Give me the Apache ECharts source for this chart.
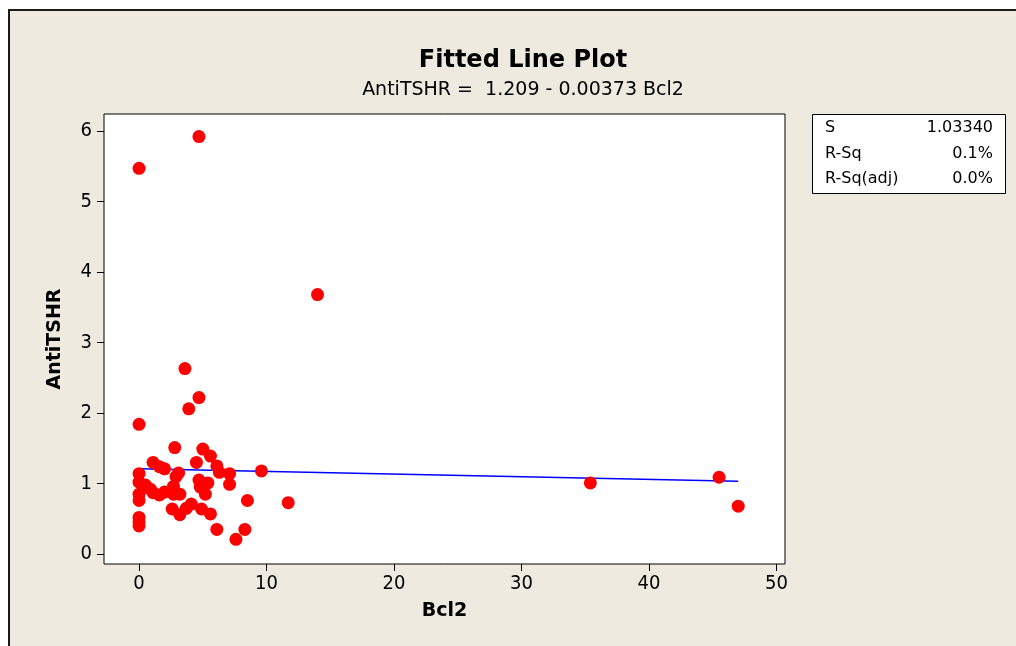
<!DOCTYPE html>
<html>
<head>
<meta charset="utf-8">
<script src="https://cdn.jsdelivr.net/npm/echarts@6/dist/echarts.min.js"></script>
<style>
html,body{margin:0;padding:0;background:#fff;}
#c{width:1016px;height:646px;}
</style>
</head>
<body>
<div id="c"></div>
<script>
// Data
var bcl2 = [0, 4.7, 14.0, 3.6, 3.9, 4.7, 0,
  2.8, 5.0, 5.6, 1.1, 4.5, 1.6, 2.0, 6.1, 6.3, 7.1, 9.6, 0, 3.1, 2.9,
  7.1, 4.7, 5.4, 4.8, 5.2, 0, 0.5, 0.9, 0, 0, 1.1, 1.6, 2.0, 2.7, 2.7, 3.2,
  2.6, 3.2, 3.7, 4.1, 4.9, 5.6, 8.5, 11.7, 6.1, 8.3, 7.6, 0, 0, 0,
  35.4, 45.5, 47.0];
var antiTSHR = [5.47, 5.92, 3.68, 2.63, 2.06, 2.22, 1.84,
  1.51, 1.49, 1.39, 1.30, 1.30, 1.24, 1.21, 1.25, 1.16, 1.14, 1.18, 1.14, 1.15, 1.10,
  0.99, 1.05, 1.01, 0.95, 0.85, 1.02, 0.98, 0.92, 0.85, 0.76, 0.87, 0.84, 0.88, 0.96, 0.85, 0.85,
  0.64, 0.56, 0.65, 0.71, 0.64, 0.57, 0.76, 0.73, 0.35, 0.35, 0.21, 0.52, 0.45, 0.40,
  1.01, 1.09, 0.68];
var fitX = [0, 47.0];
var fitY = [1.209, 1.034];
var xTicks = [0, 10, 20, 30, 40, 50];
var yTicks = [0, 1, 2, 3, 4, 5, 6];
var statNames = ['S', 'R-Sq', 'R-Sq(adj)'];
var statValues = ['1.03340', '0.1%', '0.0%'];
var titleText = 'Fitted Line Plot';
var subText = 'AntiTSHR =  1.209 - 0.00373 Bcl2';

var FONT = '"DejaVu Sans", sans-serif';
var NARROW = '"DejaVu Sans Condensed", "DejaVu Sans", sans-serif';

var points = bcl2.map(function (x, i) { return [x, antiTSHR[i]]; });
var fitLine = fitX.map(function (x, i) { return [x, fitY[i]]; });

var statGraphics = [];
statNames.forEach(function (n, i) {
  statGraphics.push({type: 'text', left: 825, top: 120 + i * 25.5,
    style: {text: n, font: '16px ' + FONT, fill: '#000'}});
  statGraphics.push({type: 'text', right: 23, top: 120 + i * 25.5,
    style: {text: statValues[i], font: '16px ' + FONT, fill: '#000', textAlign: 'right'}});
});

var chart = echarts.init(document.getElementById('c'), null, {renderer: 'canvas'});
chart.setOption({
  backgroundColor: '#fff',
  animation: false,
  graphic: [
    {type: 'rect', left: 8, top: 9, z: -10,
      shape: {x: 0, y: 0, width: 1020, height: 650},
      style: {fill: '#EEEAE0', stroke: '#1a1a1a', lineWidth: 2}},
    {type: 'rect', left: 812, top: 114,
      shape: {x: 0, y: 0, width: 193, height: 79},
      style: {fill: '#fff', stroke: '#000', lineWidth: 1}}
  ].concat(statGraphics),
  title: [
    {text: titleText, left: 518, top: 44, textAlign: 'center',
      textStyle: {fontFamily: FONT, fontSize: 24, fontWeight: 'bold', color: '#000'}},
    {text: subText, left: 518, top: 76, textAlign: 'center',
      textStyle: {fontFamily: FONT, fontSize: 19, fontWeight: 'normal', color: '#000'}}
  ],
  grid: {left: 104, top: 114, width: 681, height: 450, show: true,
    backgroundColor: '#fff', borderColor: '#000', borderWidth: 1},
  xAxis: {
    type: 'value', min: -2.75, max: 50.67,
    name: 'Bcl2', nameLocation: 'middle', nameGap: 38,
    nameTextStyle: {fontFamily: FONT, fontSize: 19, fontWeight: 'bold', color: '#000'},
    axisLine: {show: false, onZero: false},
    splitLine: {show: false},
    axisTick: {show: true, inside: false, length: 7, customValues: xTicks,
      lineStyle: {color: '#000', width: 1}},
    axisLabel: {customValues: xTicks, margin: 10,
      fontFamily: NARROW, fontSize: 20, color: '#000'}
  },
  yAxis: {
    type: 'value', min: -0.14, max: 6.24,
    name: 'AntiTSHR', nameLocation: 'middle', nameGap: 39,
    nameTextStyle: {fontFamily: FONT, fontSize: 19, fontWeight: 'bold', color: '#000'},
    axisLine: {show: false, onZero: false},
    splitLine: {show: false},
    axisTick: {show: true, inside: false, length: 7, customValues: yTicks,
      lineStyle: {color: '#000', width: 1}},
    axisLabel: {customValues: yTicks, margin: 12,
      fontFamily: NARROW, fontSize: 20, color: '#000'}
  },
  series: [
    {type: 'line', data: fitLine, symbol: 'none', z: 2,
      lineStyle: {color: '#0000FF', width: 1.5}},
    {type: 'scatter', data: points, symbol: 'circle', symbolSize: 13, z: 3,
      itemStyle: {color: '#FF0000', opacity: 1}}
  ]
});
</script>
</body>
</html>
